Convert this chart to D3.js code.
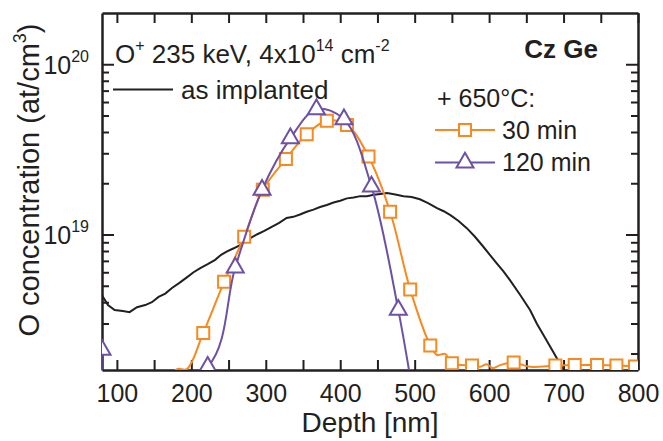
<!DOCTYPE html>
<html>
<head>
<meta charset="utf-8">
<script src="https://cdn.jsdelivr.net/npm/d3@7"></script>
<style>
    body { margin: 0; background: #fff; }
    text { font-family: "Liberation Sans", Arial, sans-serif; fill: #231f20; }
    .axis path, .axis line { stroke: #231f20; }
</style>
</head>
<body>
<svg id="chart" width="663" height="441"></svg>
<script>
// as implanted profile (depth in nm, O concentration in at/cm3)
var depthImpl = [80, 88, 97, 108, 117, 127, 138, 147, 156, 165, 174, 184, 194, 203, 212, 222, 232, 240, 248, 257, 266, 277, 288, 298, 308, 318, 328, 337, 346, 355, 364, 373, 382, 391, 400, 409, 418, 427, 436, 445, 454, 463, 474, 485, 496, 507, 518, 530, 539, 548, 559, 570, 581, 592, 601, 610, 619, 628, 642, 655, 664, 673, 686, 700, 720];
var concImpl = [4.4e18, 3.85e18, 3.6e18, 3.55e18, 3.5e18, 3.74e18, 3.85e18, 4.0e18, 4.3e18, 4.5e18, 4.85e18, 5.2e18, 5.6e18, 6.0e18, 6.35e18, 6.7e18, 7.1e18, 7.6e18, 7.95e18, 8.3e18, 8.7e18, 9.4e18, 1.0e19, 1.05e19, 1.11e19, 1.17e19, 1.25e19, 1.27e19, 1.31e19, 1.36e19, 1.4e19, 1.45e19, 1.49e19, 1.54e19, 1.58e19, 1.63e19, 1.65e19, 1.68e19, 1.68e19, 1.71e19, 1.73e19, 1.75e19, 1.72e19, 1.68e19, 1.66e19, 1.61e19, 1.53e19, 1.43e19, 1.37e19, 1.30e19, 1.2e19, 1.09e19, 9.7e18, 8.5e18, 7.6e18, 6.8e18, 6.1e18, 5.4e18, 4.4e18, 3.6e18, 3.0e18, 2.57e18, 2.05e18, 1.6e18, 1.2e18];

// + 650 C, 30 min
var depth30 = [168, 181, 194, 216, 244, 271, 296, 327, 355, 382, 409, 438, 467, 494, 521, 530, 541, 550, 577, 588, 597, 605, 615, 633, 655, 689, 715, 745, 771, 796];
var conc30 = [1.4e18, 1.62e18, 1.62e18, 2.64e18, 5.27e18, 9.7e18, 1.83e19, 2.78e19, 3.88e19, 4.66e19, 4.4e19, 2.87e19, 1.36e19, 4.76e18, 2.23e18, 1.96e18, 1.99e18, 1.75e18, 1.7e18, 1.67e18, 1.73e18, 1.64e18, 1.71e18, 1.77e18, 1.67e18, 1.7e18, 1.71e18, 1.71e18, 1.7e18, 1.68e18];
// measured points drawn without a symbol
var unmarked30 = [168, 181, 194, 530, 541, 588, 597, 605, 615, 655];

// + 650 C, 120 min
var depth120 = [80, 92, 222, 259, 295, 333, 368, 405, 442, 478, 500];
var conc120 = [2.1e18, 1.0e18, 1.67e18, 6.4e18, 1.83e19, 3.67e19, 5.44e19, 4.75e19, 1.91e19, 3.61e18, 1.0e18];
var unmarked120 = [];

var xTicks = [100, 150, 200, 250, 300, 350, 400, 450, 500, 550, 600, 650, 700, 750, 800];
var xLabels = [100, 200, 300, 400, 500, 600, 700, 800];
var yMajor = [1e19, 1e20];
var yMinor = [2e18, 3e18, 4e18, 5e18, 6e18, 7e18, 8e18, 9e18, 2e19, 3e19, 4e19, 5e19, 6e19, 7e19, 8e19, 9e19];

(function () {
    var left = 102, right = 638, top = 13, bottom = 370;
    var ink = "#231f20", orange = "#f6891f", purple = "#6c51a5";

    var svg = d3.select("#chart");

    var x = d3.scaleLinear().domain([80, 800]).range([left, right]);
    var y = d3.scaleLog().domain([1.6e18, 2e20]).range([bottom, top]);

    function zip(xs, ys) {
        return xs.map(function (d, i) {
            return {x: d, y: ys[i]};
        });
    }

    svg.append("defs").append("clipPath")
        .attr("id", "plot-clip")
        .append("rect")
        .attr("x", left).attr("y", top)
        .attr("width", right - left).attr("height", bottom - top);

    // axes -- ticks all point inwards
    function axisGroup(axis, tx, ty) {
        var g = svg.append("g")
            .attr("class", "axis")
            .attr("transform", "translate(" + tx + "," + ty + ")")
            .call(axis);
        g.selectAll("line").attr("stroke-width", 2);
        g.select(".domain").attr("stroke-width", 2.5);
        return g;
    }

    var gx = axisGroup(d3.axisBottom(x).tickValues(xTicks).tickSizeInner(-10).tickSizeOuter(0).tickPadding(14)
        .tickFormat(function (d) { return xLabels.indexOf(d) >= 0 ? d : ""; }), 0, bottom);
    gx.selectAll("text").attr("font-size", 25).attr("fill", ink);
    axisGroup(d3.axisTop(x).tickValues(xTicks).tickSizeInner(-10).tickSizeOuter(0).tickFormat(""), 0, top);

    var gy = axisGroup(d3.axisLeft(y).tickValues(yMajor).tickSizeInner(-12).tickSizeOuter(0).tickPadding(13)
        .tickFormat(""), left, 0);
    gy.selectAll(".tick").append("text")
        .attr("x", -13)
        .attr("dy", "0.36em")
        .attr("text-anchor", "end")
        .attr("font-size", 25)
        .each(function (d) {
            var t = d3.select(this);
            t.append("tspan").text("10");
            t.append("tspan").attr("font-size", 16).attr("dy", "-0.75em").text(Math.round(Math.log10(d)));
        });
    axisGroup(d3.axisLeft(y).tickValues(yMinor).tickSizeInner(-7).tickSizeOuter(0).tickFormat(""), left, 0)
        .select(".domain").remove();
    axisGroup(d3.axisRight(y).tickValues(yMajor).tickSizeInner(-12).tickSizeOuter(0).tickFormat(""), right, 0);
    axisGroup(d3.axisRight(y).tickValues(yMinor).tickSizeInner(-7).tickSizeOuter(0).tickFormat(""), right, 0)
        .select(".domain").remove();

    // axis titles
    svg.append("text")
        .attr("x", (left + right) / 2)
        .attr("y", 432)
        .attr("text-anchor", "middle")
        .attr("font-size", 28)
        .text("Depth [nm]");

    var yt = svg.append("text")
        .attr("transform", "translate(39," + 180 + ") rotate(-90)")
        .attr("text-anchor", "middle")
        .attr("font-size", 29);
    yt.append("tspan").text("O concentration (at/cm");
    yt.append("tspan").attr("font-size", 18).attr("dy", "-0.75em").text("3");
    yt.append("tspan").attr("dy", "0.47em").text(")");

    // data
    var plot = svg.append("g").attr("clip-path", "url(#plot-clip)");

    var lineStraight = d3.line()
        .x(function (d) { return x(d.x); })
        .y(function (d) { return y(d.y); });
    var lineSmooth = d3.line()
        .curve(d3.curveCatmullRom.alpha(0.5))
        .x(function (d) { return x(d.x); })
        .y(function (d) { return y(d.y); });

    plot.append("path")
        .datum(zip(depthImpl, concImpl))
        .attr("fill", "none")
        .attr("stroke", ink)
        .attr("stroke-width", 2)
        .attr("d", lineStraight);

    var square = d3.symbol(d3.symbolSquare, 144);
    var triangle = d3.symbol(d3.symbolTriangle, 125);

    function series(xs, ys, skip, color, sym) {
        var data = zip(xs, ys);
        plot.append("path")
            .datum(data)
            .attr("fill", "none")
            .attr("stroke", color)
            .attr("stroke-width", 2)
            .attr("d", lineSmooth);
        plot.selectAll(null)
            .data(data.filter(function (d) { return skip.indexOf(d.x) < 0; }))
            .enter().append("path")
            .attr("transform", function (d) {
                return "translate(" + x(d.x) + "," + y(d.y) + ")";
            })
            .attr("d", sym)
            .attr("fill", "#fff")
            .attr("stroke", color)
            .attr("stroke-width", 2);
    }

    series(depth30, conc30, unmarked30, orange, square);
    series(depth120, conc120, unmarked120, purple, triangle);

    // annotations and legend
    var ann = svg.append("text")
        .attr("x", 115)
        .attr("y", 63)
        .attr("font-size", 26);
    ann.append("tspan").text("O");
    ann.append("tspan").attr("font-size", 16).attr("dy", "-0.75em").text("+");
    ann.append("tspan").attr("dy", "0.46em").text(" 235 keV, 4x10");
    ann.append("tspan").attr("font-size", 16).attr("dy", "-0.75em").text("14");
    ann.append("tspan").attr("dy", "0.46em").text(" cm");
    ann.append("tspan").attr("font-size", 16).attr("dy", "-0.75em").text("-2");

    svg.append("text")
        .attr("x", 598)
        .attr("y", 58)
        .attr("text-anchor", "end")
        .attr("font-size", 26)
        .attr("font-weight", "bold")
        .text("Cz Ge");

    svg.append("line")
        .attr("x1", 113).attr("x2", 173)
        .attr("y1", 89.5).attr("y2", 89.5)
        .attr("stroke", ink).attr("stroke-width", 2);
    svg.append("text")
        .attr("x", 181).attr("y", 99)
        .attr("font-size", 26)
        .text("as implanted");

    svg.append("text")
        .attr("x", 437).attr("y", 107)
        .attr("font-size", 25)
        .text("+ 650\u00b0C:");

    var legend = [
        {label: "30 min", color: orange, sym: square, y: 130},
        {label: "120 min", color: purple, sym: triangle, y: 162.5}
    ];
    var lg = svg.selectAll("g.legend")
        .data(legend)
        .enter().append("g")
        .attr("class", "legend")
        .attr("transform", function (d) { return "translate(0," + d.y + ")"; });
    lg.append("line")
        .attr("x1", 435).attr("x2", 495)
        .attr("stroke", function (d) { return d.color; })
        .attr("stroke-width", 2);
    lg.append("path")
        .attr("transform", "translate(465,0)")
        .attr("d", function (d) { return d.sym(); })
        .attr("fill", "#fff")
        .attr("stroke", function (d) { return d.color; })
        .attr("stroke-width", 2);
    lg.append("text")
        .attr("x", 502)
        .attr("y", 8.5)
        .attr("font-size", 25)
        .text(function (d) { return d.label; });
})();
</script>
</body>
</html>
